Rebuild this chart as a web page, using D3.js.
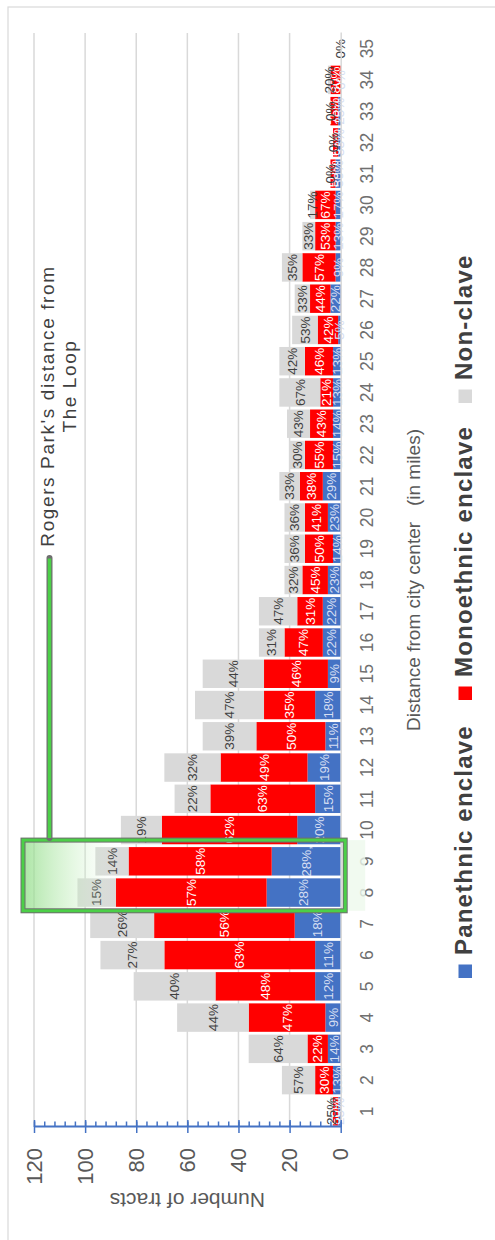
<!DOCTYPE html>
<html>
<head>
<meta charset="utf-8">
<script src="https://cdn.jsdelivr.net/npm/d3@7"></script>
<style>
  html, body { margin: 0; padding: 0; background: #fff; }
  svg { display: block; }
</style>
</head>
<body>
<svg id="chart" width="495" height="1240"></svg>
<script>
// Distance bands (miles from the city center)
const categories = ["1","2","3","4","5","6","7","8","9","10","11","12","13","14","15","16","17","18",
  "19","20","21","22","23","24","25","26","27","28","29","30","31","32","33","34","35"];

// Number of census tracts in each band, by enclave type
const panethnic  = [1, 3, 5, 6,10,10,18,29,27,17,10,13, 6,10, 5, 7, 7, 5, 3, 5, 7, 3, 3, 3, 3, 1, 4, 2, 2, 2, 2, 1, 1, 0, 0];
const monoethnic = [2, 7, 8,30,39,59,55,59,56,53,41,34,27,20,25,15,10,10,11, 9, 9,11, 9, 5,11, 8, 8,13, 8, 8, 2, 2, 3, 4, 0];
const nonclave   = [1,13,23,28,32,25,25,15,13,16,14,22,21,27,24,10,15, 7, 8, 8, 8, 6, 9,16,10,10, 6, 8, 5, 2, 0, 0, 0, 1, 0];

// Share labels printed on each segment
const panLabels  = ["25%","13%","14%","9%","12%","11%","18%","28%","28%,","20%","15%","19%","11%","18%","9%","22%","22%","23%",
  "14%","23%","29%","15%","14%","13%","13%","5%","22%","9%","13%","17%","50%","33%","25%","0%","0%"];
const monoLabels = ["50%","30%","22%","47%","48%","63%","56%","57%","58%","62%","63%","49%","50%","35%","46%","47%","31%","45%",
  "50%","41%","38%","55%","43%","21%","46%","42%","44%","57%","53%","67%","50%","67%","75%","80%","0%"];
const nonLabels  = ["25%","57%","64%","44%","40%","27%","26%","15%","14%","19%","22%","32%","39%","47%","44%","31%","47%","32%",
  "36%","36%","33%","30%","43%","67%","42%","53%","33%","35%","33%","17%","0%","0%","0%","20%","0%"];

// Value axis ticks
const yTickValues = [0, 20, 40, 60, 80, 100, 120];

const seriesNames  = ["Panethnic enclave", "Monoethnic enclave", "Non-clave"];
const seriesKeys   = ["pan", "mono", "non"];
const seriesColors = ["#4472C4", "#FF0000", "#D9D9D9"];
const labelColors  = ["#D5DEF2", "#FFFFFF", "#404040"];

// Table for the stack layout
const table = categories.map((c, i) => ({
  cat: c, pan: panethnic[i], mono: monoethnic[i], non: nonclave[i],
  labels: { pan: panLabels[i], mono: monoLabels[i], non: nonLabels[i] }
}));

// The chart is laid out landscape (1240 x 495) and turned a quarter turn
const W = 1240, H = 495;
const svg = d3.select("#chart");
const root = svg.append("g").attr("transform", `translate(0,${W}) rotate(-90)`);

const x = d3.scaleBand().domain(categories).range([113, 1207]).paddingInner(0.09).paddingOuter(0.045);
const y = d3.scaleLinear().domain([0, 120]).range([340.7, 34]);

const labelFont = "'Liberation Sans Narrow', 'Liberation Sans', Arial, sans-serif";
const textFont  = "'Liberation Sans', Arial, sans-serif";

// Chart frame
root.append("rect")
  .attr("x", -10).attr("y", 8).attr("width", 1243).attr("height", 520)
  .attr("fill", "none").attr("stroke", "#D9D9D9").attr("stroke-width", 1.2);

// Horizontal gridlines
root.append("g").selectAll("line")
  .data(yTickValues.filter(v => v > 0))
  .join("line")
  .attr("x1", x.range()[0]).attr("x2", x.range()[1])
  .attr("y1", d => y(d)).attr("y2", d => y(d))
  .attr("stroke", "#D9D9D9").attr("stroke-width", 1.5);

// Stacked bars
const stack = d3.stack().keys(seriesKeys);
const layers = stack(table);

const barG = root.append("g");
layers.forEach((layer, li) => {
  barG.append("g").attr("fill", seriesColors[li])
    .selectAll("rect")
    .data(layer)
    .join("rect")
    .attr("x", d => x(d.data.cat))
    .attr("width", x.bandwidth())
    .attr("y", d => y(d[1]))
    .attr("height", d => y(d[0]) - y(d[1]));
});

// Segment share labels
const lblG = root.append("g")
  .attr("font-family", labelFont).attr("font-size", 13.5)
  .attr("text-anchor", "middle");
layers.forEach((layer, li) => {
  const key = seriesKeys[li];
  lblG.append("g").attr("fill", labelColors[li])
    .selectAll("text")
    .data(layer)
    .join("text")
    .attr("x", d => x(d.data.cat) + x.bandwidth() / 2)
    .attr("y", d => y((d[0] + d[1]) / 2))
    .attr("dy", "0.35em")
    .text(d => d.data.labels[key]);
});

// Category axis (distance bands)
const xAxis = root.append("g")
  .attr("transform", `translate(0,${y(0)})`)
  .call(d3.axisBottom(x).tickSize(0).tickPadding(20));
xAxis.select(".domain").attr("stroke", "#D9D9D9").attr("stroke-width", 1.5);
xAxis.selectAll("text")
  .attr("font-family", textFont).attr("font-size", 17.5)
  .attr("fill", "#6F6F6F").attr("dy", "0.71em");

// Value axis: minor ticks every 4, major ticks crossing the line
const axisX = x.range()[0];
root.append("g")
  .attr("transform", `translate(${axisX},0)`)
  .call(d3.axisRight(y).tickValues(d3.range(0, 121, 4)).tickSize(5.5).tickFormat(""))
  .call(g => g.select(".domain").remove())
  .call(g => g.selectAll("line").attr("stroke", "#4472C4").attr("stroke-width", 1.5));
root.append("g")
  .attr("transform", `translate(${axisX},0)`)
  .call(d3.axisRight(y).tickValues(yTickValues).tickSize(7).tickFormat(""))
  .call(g => g.select(".domain").remove())
  .call(g => g.selectAll("line").attr("stroke", "#4472C4").attr("stroke-width", 1.5));
const yAxis = root.append("g")
  .attr("transform", `translate(${axisX},0)`)
  .call(d3.axisLeft(y).tickValues(yTickValues).tickSize(6).tickPadding(15).tickSizeOuter(0));
yAxis.select(".domain").attr("stroke", "#4472C4").attr("stroke-width", 1.8);
yAxis.selectAll("line").attr("stroke", "#4472C4").attr("stroke-width", 1.5);
yAxis.selectAll("text")
  .attr("font-family", labelFont).attr("font-size", 22).attr("fill", "#595959");

// Axis titles
root.append("text")
  .attr("transform", `translate(40,${(y(0) + y(120)) / 2}) rotate(-90)`)
  .attr("text-anchor", "middle").attr("dy", "0.35em")
  .attr("font-family", textFont).attr("font-size", 21).attr("fill", "#595959")
  .text("Number of tracts");

root.append("text")
  .attr("x", (x.range()[0] + x.range()[1]) / 2).attr("y", 420)
  .attr("text-anchor", "middle")
  .attr("font-family", textFont).attr("font-size", 19).attr("fill", "#595959")
  .style("white-space", "pre")
  .text("Distance from city center   (in miles)");

// Highlight around the Rogers Park bands
const defs = svg.append("defs");
const grad = defs.append("linearGradient")
  .attr("id", "hlFill").attr("gradientUnits", "userSpaceOnUse")
  .attr("x1", 0).attr("y1", 23).attr("x2", 0).attr("y2", 120);
grad.append("stop").attr("offset", 0).attr("stop-color", "#8FDC86").attr("stop-opacity", 0.75);
grad.append("stop").attr("offset", 0.45).attr("stop-color", "#B9EBB2").attr("stop-opacity", 0.45);
grad.append("stop").attr("offset", 1).attr("stop-color", "#E8F8E5").attr("stop-opacity", 0);

const boxX0 = x("8") - 4, boxX1 = x("9") + x.bandwidth() + 7;
const boxY0 = y(120) - 11, boxY1 = y(0) + 4.5;

// faint glow just outside the lower edge of the highlight
root.append("rect")
  .attr("x", boxX0).attr("y", boxY1)
  .attr("width", boxX1 - boxX0).attr("height", 20)
  .attr("fill", "#EEF9EC").attr("opacity", 0.8);

root.append("rect")
  .attr("x", boxX0).attr("y", boxY0)
  .attr("width", boxX1 - boxX0).attr("height", boxY1 - boxY0)
  .attr("fill", "url(#hlFill)")
  .attr("stroke", "#6E6E6E").attr("stroke-width", 5);
root.append("rect")
  .attr("x", boxX0).attr("y", boxY0)
  .attr("width", boxX1 - boxX0).attr("height", boxY1 - boxY0)
  .attr("fill", "none")
  .attr("stroke", "#4CCF48").attr("stroke-width", 3);

// Callout line to the note
const calloutY = 49.5, calloutEnd = 682;
root.append("line")
  .attr("x1", boxX1 + 2).attr("x2", calloutEnd)
  .attr("y1", calloutY).attr("y2", calloutY)
  .attr("stroke", "#6E6E6E").attr("stroke-width", 6).attr("stroke-linecap", "round");
root.append("line")
  .attr("x1", boxX1 + 2).attr("x2", calloutEnd - 0.5)
  .attr("y1", calloutY).attr("y2", calloutY)
  .attr("stroke", "#4CCF48").attr("stroke-width", 3.5);

const note = root.append("text")
  .attr("text-anchor", "middle")
  .attr("font-family", textFont).attr("font-size", 19).attr("fill", "#404040")
  .attr("letter-spacing", 1.6);
note.append("tspan").attr("x", 834).attr("y", 54).text("Rogers Park's distance from");
note.append("tspan").attr("x", 854).attr("y", 76).text("The Loop");

// Legend
const legendX = [262, 540, 837];
const legend = root.append("g");
seriesNames.forEach((name, i) => {
  legend.append("rect")
    .attr("x", legendX[i]).attr("y", 458.5)
    .attr("width", 13.5).attr("height", 13.5)
    .attr("fill", seriesColors[i]);
  legend.append("text")
    .attr("x", legendX[i] + 23).attr("y", 472)
    .attr("font-family", textFont).attr("font-size", 24).attr("font-weight", "bold")
    .attr("letter-spacing", 1.2)
    .attr("fill", "#404040")
    .text(name);
});
</script>
</body>
</html>
